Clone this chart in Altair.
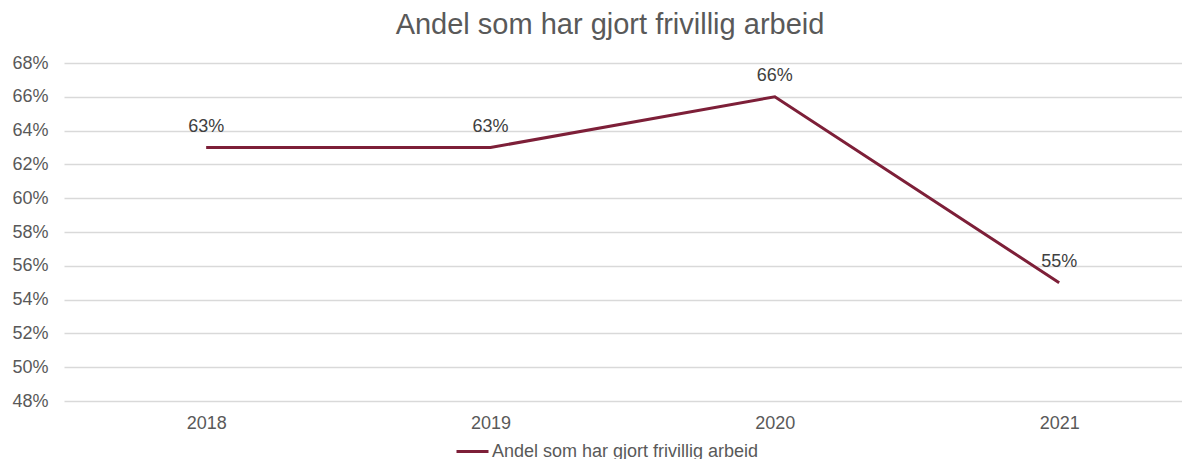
import altair as alt
import pandas as pd

years = [2018, 2019, 2020, 2021]
values = [0.63, 0.63, 0.66, 0.55]
labels = ["63%", "63%", "66%", "55%"]
series = ["Andel som har gjort frivillig arbeid"] * 4
y_ticks = [0.48, 0.50, 0.52, 0.54, 0.56, 0.58, 0.60, 0.62, 0.64, 0.66, 0.68]

df = pd.DataFrame({"year": years, "value": values, "label": labels, "series": series})

FONT = "Liberation Sans"
LINE = "#7d1f38"

x = alt.X("year:Q", scale=alt.Scale(domain=[2017.5, 2021.432], nice=False, zero=False),
          axis=alt.Axis(values=years, format="d", title=None, grid=False, ticks=False,
                        domain=False, labelFontSize=18, labelColor="#595959",
                        labelFont=FONT, labelPadding=13))
y = alt.Y("value:Q", scale=alt.Scale(domain=[0.48, 0.68], nice=False, zero=False),
          axis=alt.Axis(values=y_ticks, format=".0%", title=None, ticks=False, domain=False,
                        gridColor="#d9d9d9", gridWidth=1.5, labelFontSize=18,
                        labelColor="#595959", labelFont=FONT, labelPadding=16))

line = alt.Chart(df).mark_line(strokeWidth=3).encode(
    x=x, y=y,
    color=alt.Color("series:N", scale=alt.Scale(range=[LINE]),
                    legend=alt.Legend(title=None, orient="none", legendX=391, legendY=371,
                                      symbolType="stroke", symbolSize=1024,
                                      symbolStrokeWidth=3, labelFontSize=18,
                                      labelColor="#595959", labelFont=FONT,
                                      labelOffset=2, labelLimit=500)),
)

text = alt.Chart(df).mark_text(dy=-21, fontSize=18, color="#404040", font=FONT).encode(
    x=x, y=y, text="label:N"
)

chart = (line + text).properties(
    width=1118, height=338,
    autosize=alt.AutoSizeParams(type="none"),
    padding={"left": 56, "top": 55, "right": 0, "bottom": 58},
    title=alt.Title("Andel som har gjort frivillig arbeid", fontSize=29, color="#595959",
                    font=FONT, fontWeight="normal", offset=14, anchor="middle", dx=-13),
).configure_view(stroke=None)

chart.save("out.html", embed_options={"renderer": "svg", "actions": False})
